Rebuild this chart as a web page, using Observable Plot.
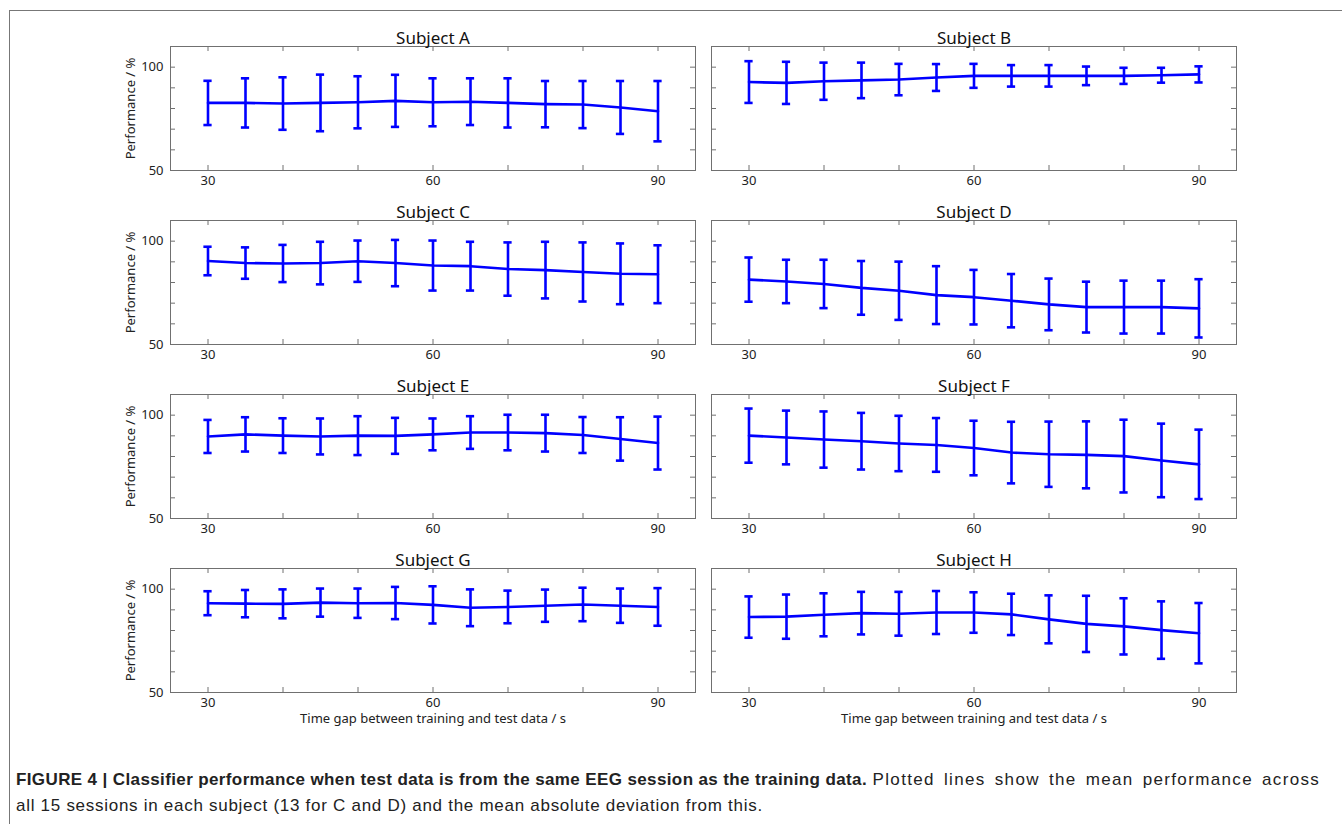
<!DOCTYPE html>
<html>
<head>
<meta charset="utf-8">
<script src="https://cdn.jsdelivr.net/npm/d3@7"></script>
<script src="https://cdn.jsdelivr.net/npm/@observablehq/plot@0.6"></script>
<style>
body{margin:0;background:#fff;}
#fig{position:relative;width:1342px;height:824px;overflow:hidden;background:#fff;}
#box{position:absolute;left:9px;top:10px;width:1400px;height:900px;border-left:1px solid #777;border-top:1px solid #777;}
.panel{position:absolute;}
.panel svg{overflow:visible;}
#caption{position:absolute;left:16px;top:767px;width:1309px;font-family:"Liberation Sans",Arial,sans-serif;font-size:17px;letter-spacing:0.72px;line-height:26px;color:#222;}
#caption .l1,#caption .l2{white-space:nowrap;}
#caption b{font-weight:bold;letter-spacing:0.38px;}
#caption .wide{letter-spacing:1.35px;word-spacing:3px;}
</style>
</head>
<body>
<div id="fig">
  <div id="box"></div>
  <div id="caption"><div class="l1"><b>FIGURE 4 | Classifier performance when test data is from the same EEG session as the training data.</b> <span class="wide">Plotted lines show the mean performance across</span></div><div class="l2">all 15 sessions in each subject (13 for C and D) and the mean absolute deviation from this.</div></div>
</div>
<script>
// ---- data ----
const timeGaps = [30, 35, 40, 45, 50, 55, 60, 65, 70, 75, 80, 85, 90];
const xTickLabels = [30, 60, 90];
const xMinorTicks = [30, 40, 50, 60, 70, 80, 90];
const yTickLabels = [50, 100];
const yMinorTicks = [60, 70, 80, 90, 100];
const subjects = ["A", "B", "C", "D", "E", "F", "G", "H"];

const meanA = [82.7, 82.7, 82.4, 82.7, 83.0, 83.7, 83.0, 83.3, 82.7, 82.1, 81.9, 80.5, 78.7];
const devA  = [10.7, 11.9, 12.7, 13.7, 12.6, 12.6, 11.6, 11.3, 11.9, 11.2, 11.4, 12.8, 14.6];
const meanB = [92.8, 92.4, 93.2, 93.6, 94.0, 95.0, 95.8, 95.8, 95.8, 95.8, 95.8, 96.1, 96.5];
const devB  = [10.1, 10.2, 9.0, 8.6, 7.6, 6.5, 5.8, 5.2, 5.2, 4.5, 3.9, 3.6, 3.9];
const meanC = [90.4, 89.4, 89.2, 89.4, 90.3, 89.4, 88.2, 87.9, 86.5, 86.0, 85.1, 84.2, 84.0];
const devC  = [6.9, 7.6, 9.0, 10.3, 10.0, 11.2, 12.1, 11.8, 12.9, 13.7, 14.3, 14.7, 14.0];
const meanD = [81.4, 80.5, 79.3, 77.4, 76.0, 73.9, 72.9, 71.2, 69.4, 68.1, 68.1, 68.1, 67.5];
const devD  = [10.7, 10.5, 11.7, 13.0, 14.1, 14.0, 13.2, 12.9, 12.5, 12.3, 12.8, 12.8, 14.1];
const meanE = [89.7, 90.7, 90.1, 89.7, 90.1, 90.0, 90.7, 91.6, 91.6, 91.3, 90.4, 88.5, 86.5];
const devE  = [8.0, 8.3, 8.4, 8.7, 9.4, 8.7, 7.7, 7.9, 8.6, 8.9, 8.7, 10.5, 12.8];
const meanF = [90.1, 89.2, 88.2, 87.4, 86.3, 85.6, 84.1, 81.9, 81.1, 80.8, 80.2, 78.1, 76.2];
const devF  = [13.1, 13.0, 13.6, 13.7, 13.4, 13.0, 13.2, 14.9, 15.8, 16.2, 17.6, 17.8, 16.8];
const meanG = [93.2, 93.0, 92.9, 93.5, 93.2, 93.3, 92.4, 91.0, 91.4, 92.0, 92.6, 92.0, 91.4];
const devG  = [5.8, 6.6, 7.0, 6.8, 7.1, 7.8, 9.0, 8.9, 7.9, 7.8, 8.1, 8.3, 9.1];
const meanH = [86.5, 86.7, 87.6, 88.4, 88.1, 88.7, 88.7, 87.8, 85.4, 83.2, 82.0, 80.2, 78.7];
const devH  = [10.0, 10.7, 10.4, 10.3, 10.6, 10.4, 9.8, 10.0, 11.6, 13.6, 13.6, 13.9, 14.6];

const means = [meanA, meanB, meanC, meanD, meanE, meanF, meanG, meanH];
const devs  = [devA, devB, devC, devD, devE, devF, devG, devH];

const yLabel = "Performance / %";
const xLabel = "Time gap between training and test data / s";

// ---- drawing ----
const BLUE = "#0000ff";
const GRAY = "#707070";
const FONT = "'Noto Sans', 'Open Sans', sans-serif";
const fig = document.getElementById("fig");

subjects.forEach((name, i) => {
  const col = i % 2, row = Math.floor(i / 2);
  const last = row === 3;
  const width = col === 0 ? 700 : 642;
  const marginLeft = col === 0 ? 170 : 11;
  const marginRight = col === 0 ? 5 : 106;
  const marginTop = 46;
  const marginBottom = last ? 44 : 4;
  const height = last ? 214 : 174;
  const innerW = width - marginLeft - marginRight;
  const innerH = height - marginTop - marginBottom;
  const data = timeGaps.map((t, k) => ({t, m: means[i][k], lo: means[i][k] - devs[i][k], hi: means[i][k] + devs[i][k]}));

  const marks = [
    Plot.frame({stroke: GRAY, strokeWidth: 1}),
    Plot.tickX(xMinorTicks, {x: d => d, insetBottom: innerH - 5, stroke: GRAY}),
    Plot.tickX(xMinorTicks, {x: d => d, insetTop: innerH - 5, stroke: GRAY}),
    Plot.tickY(yMinorTicks, {y: d => d, insetRight: innerW - 5, stroke: GRAY}),
    Plot.tickY(yMinorTicks, {y: d => d, insetLeft: innerW - 5, stroke: GRAY}),
    Plot.axisX(xTickLabels, {tickSize: 0, tickPadding: 5, fill: "#222", fontSize: 13, label: null}),
    Plot.ruleX(data, {x: "t", y1: "lo", y2: "hi", stroke: BLUE, strokeWidth: 2.6}),
    Plot.ruleY(data, {y: "hi", x1: d => d.t - 0.55, x2: d => d.t + 0.55, stroke: BLUE, strokeWidth: 2.6}),
    Plot.ruleY(data, {y: "lo", x1: d => d.t - 0.55, x2: d => d.t + 0.55, stroke: BLUE, strokeWidth: 2.6}),
    Plot.line(data, {x: "t", y: "m", stroke: BLUE, strokeWidth: 2.6}),
    Plot.text([`Subject ${name}`], {frameAnchor: "top", dy: -3, lineAnchor: "bottom", fontSize: 17, fill: "#111"})
  ];
  if (col === 0) {
    marks.push(Plot.axisY(yTickLabels, {tickSize: 0, tickPadding: 7, fill: "#222", fontSize: 13, label: null}));
    marks.push(Plot.text([yLabel], {frameAnchor: "left", textAnchor: "middle", rotate: -90, dx: -40, fontSize: 13, fill: "#222"}));
  }
  if (last) {
    marks.push(Plot.text([xLabel], {frameAnchor: "bottom", dy: 30, fontSize: 13, fill: "#222"}));
  }

  const svg = Plot.plot({
    width, height, marginLeft, marginRight, marginTop, marginBottom,
    x: {domain: [25, 95]},
    y: {domain: [50, 110], axis: col === 0 ? undefined : null},
    style: {fontFamily: FONT, fontSize: "13px", background: "transparent", overflow: "visible"},
    marks
  });
  const wrap = document.createElement("div");
  wrap.className = "panel";
  wrap.style.left = (col === 0 ? 0 : 700) + "px";
  wrap.style.top = (row * 174) + "px";
  wrap.appendChild(svg);
  fig.appendChild(wrap);
});
</script>
</body>
</html>
